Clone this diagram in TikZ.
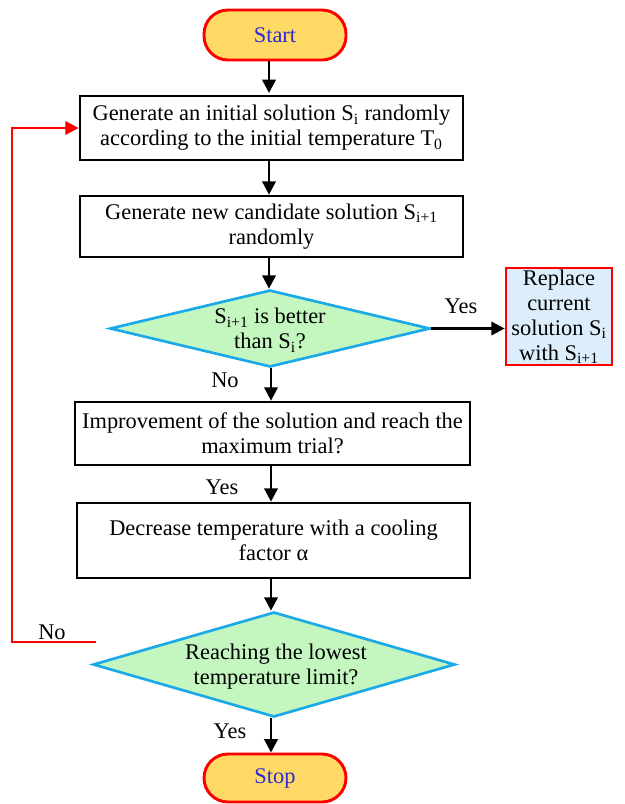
\documentclass[tikz,border=0pt]{standalone}
\usepackage{fontspec}
\setmainfont{Liberation Serif}
\usetikzlibrary{shapes.geometric,arrows.meta}
\definecolor{termfill}{HTML}{FFD966}
\definecolor{termtext}{HTML}{2B2BD0}
\definecolor{decfill}{HTML}{C4F7C0}
\definecolor{decline}{HTML}{1BA9E8}
\definecolor{repfill}{HTML}{DCEEFB}
\begin{document}
\begin{tikzpicture}[x=0.75pt,y=-0.75pt,
  every node/.style={font=\fontsize{16.8}{18.75}\selectfont},
  term/.style={draw=red,line width=2.2pt,fill=termfill,rounded corners=18pt,text=termtext,minimum width=106.5pt,inner sep=0pt},
  procbox/.style={draw=black,line width=2pt,fill=white,align=center,inner sep=0pt},
  decision/.style={diamond,draw=decline,line width=2pt,fill=decfill,inner sep=0pt},
  arr/.style={line width=2pt,-{Triangle[length=10pt,width=10pt]}},
  redarr/.style={draw=red,line width=2pt,-{Triangle[length=10pt,width=10pt]}},
  lbl/.style={inner sep=0pt}]
\useasboundingbox (0,0) rectangle (625,804);
\node[term,minimum height=37.5pt] (start) at (275,35) {Start};
\node[procbox,minimum width=287.25pt,minimum height=48pt] (b1) at (271.5,128)
  {Generate an initial solution S\textsubscript{i} randomly\\according to the initial temperature T\textsubscript{0}};
\node[procbox,minimum width=287.25pt,minimum height=45.75pt] (b2) at (271.5,226.5)
  {Generate new candidate solution S\textsubscript{i+1}\\randomly};
\node[decision,minimum width=240pt,minimum height=57.75pt] (d1) at (270,328.5) {};
\node[align=center,inner sep=0pt] (d1t) at (270,330) {S\textsubscript{i+1} is better\\than S\textsubscript{i}?};
\node[procbox,draw=red,fill=repfill,minimum width=79.5pt,minimum height=72.75pt] (rep) at (559,316.5)
  {Replace\\current\\solution S\textsubscript{i}\\with S\textsubscript{i+1}};
\node[procbox,minimum width=296.25pt,minimum height=47.25pt] (b3) at (272.5,433.5)
  {Improvement of the solution and reach the\\maximum trial?};
\node[procbox,minimum width=294.75pt,minimum height=56.25pt] (b4) at (273.5,540.5)
  {Decrease temperature with a cooling\\factor α};
\node[decision,minimum width=271.5pt,minimum height=78.75pt] (d2) at (274,664.5) {};
\node[align=center,inner sep=0pt] (d2t) at (276,667) {Reaching the lowest\\temperature limit?};
\node[term,minimum height=36pt] (stop) at (275,778) {Stop};

\draw[arr] (start.south -| 269,0) -- (269,93) coordinate (e1);
\draw[arr] (b1.south -| 269,0) -- (b2.north -| 269,0);
\draw[arr] (b2.south -| 269,0) -- (d1.north -| 269,0);
\draw[arr] (d1.east) -- (d1.east -| rep.west);
\draw[arr] (d1.south -| 271,0) -- (b3.north -| 271,0);
\draw[arr] (b3.south -| 271,0) -- (b4.north -| 271,0);
\draw[arr] (b4.south -| 271,0) -- (d2.north -| 271,0);
\draw[arr] (d2.south -| 271,0) -- (stop.north -| 271,0);
\coordinate (noend) at (96,642);
\draw[redarr] (noend) -- (12,642) |- (b1.west);

\node[lbl] (y1) at (461,306) {Yes};
\node[lbl] (n1) at (225,380) {No};
\node[lbl] (y2) at (222,487) {Yes};
\node[lbl] (n2) at (52,632) {No};
\node[lbl] (y3) at (230,731) {Yes};
\end{tikzpicture}
\end{document}
